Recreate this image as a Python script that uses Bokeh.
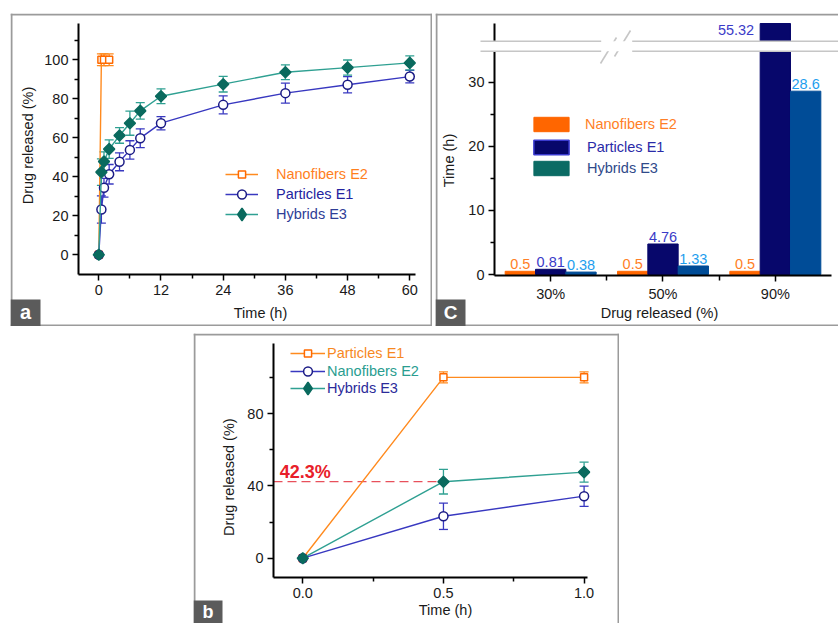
import numpy as np
from bokeh.plotting import figure
from bokeh.models import (ColumnDataSource, Whisker, TeeHead, Legend, LegendItem,
                          FixedTicker, Label, BoxAnnotation, Range1d, Spacer,
                          PrintfTickFormatter)
from bokeh.layouts import row, column
from bokeh.embed import file_html
from bokeh.resources import INLINE
from bokeh.core.properties import value

FONT = "Liberation Sans"
FS = "14.5px"
AXIS_TXT = "#1a1a1a"
BORDER_C = "#9b9b9b"

# ---------------- data: panel a ----------------
a_time_nano = [0, 0.5, 1, 2]
a_rel_nano = [0, 100, 100, 100]
a_err_nano = [0, 3, 3, 3]
a_time = [0, 0.5, 1, 2, 4, 6, 8, 12, 24, 36, 48, 60]
a_rel_part = [0, 23.2, 34.4, 41.3, 47.7, 53.8, 59.8, 67.5, 76.9, 82.9, 87.2, 91.4]
a_err_part = [0, 7.0, 4.8, 5.0, 4.6, 4.7, 4.8, 3.4, 4.6, 5.1, 4.2, 3.2]
a_rel_hyb = [0, 42.4, 47.8, 54.2, 61.2, 67.5, 73.8, 81.3, 87.5, 93.6, 96.0, 98.4]
a_err_hyb = [0, 6.8, 5.0, 4.7, 4.0, 6.2, 4.2, 3.8, 4.0, 3.8, 3.9, 3.6]
a_xticks = [0, 12, 24, 36, 48, 60]
a_xminor = [6, 18, 30, 42, 54]
a_yticks = [0, 20, 40, 60, 80, 100]
a_yminor = [10, 30, 50, 70, 90, 110]

# ---------------- data: panel c ----------------
c_categories = ["30%", "50%", "90%"]
c_nano = [0.5, 0.5, 0.5]
c_part = [0.81, 4.76, 55.32]
c_hyb = [0.38, 1.33, 28.6]
c_yticks = [0, 10, 20, 30]
c_yminor = [5, 15, 25]

# ---------------- data: panel b ----------------
b_time = [0.0, 0.5, 1.0]
b_rel_sq = [0, 100, 100]      # orange squares, legend "Particles E1"
b_err_sq = [0, 3, 3]
b_rel_ci = [0, 23.2, 34.3]    # navy circles, legend "Nanofibers E2"
b_err_ci = [0, 7.3, 5.6]
b_rel_di = [0, 42.3, 47.6]    # teal diamonds, legend "Hybrids E3"
b_err_di = [0, 6.8, 5.5]
b_xticks = [0.0, 0.5, 1.0]
b_xminor = [0.25, 0.75]
b_yticks = [0, 40, 80]
b_yminor = [20, 60, 100]

# colours
OR_LINE, OR_MARK = "#FF8A1E", "#FF6A00"
NV_LINE, NV_MARK = "#3838C0", "#1B1B85"
TL_LINE, TL_MARK = "#2FA092", "#0A6A5E"


def make_panel(canvas, xref, yref):
    """canvas = page box (left, top, right, bottom); xref/yref = (pixel of 0, pixels per unit)."""
    L, T, R, B = canvas
    x0, xs = xref
    y0, ys = yref
    fx = lambda px: (px - x0) / xs
    fy = lambda py: (y0 - py) / ys
    p = figure(width=R - L, height=B - T,
               x_range=Range1d(fx(L), fx(R)), y_range=Range1d(fy(B), fy(T)),
               output_backend="svg", toolbar_location=None,
               min_border_left=0, min_border_right=0, min_border_top=0, min_border_bottom=0,
               background_fill_color="white", border_fill_color="white",
               outline_line_color=None)
    p.xgrid.visible = False
    p.ygrid.visible = False
    for ax in (p.xaxis[0], p.yaxis[0]):
        ax.axis_line_width = 2
        ax.axis_line_color = "black"
        ax.major_tick_line_width = 1.5
        ax.minor_tick_line_width = 1.5
        ax.major_tick_out = 6
        ax.major_tick_in = 0
        ax.minor_tick_out = 4
        ax.minor_tick_in = 0
        ax.major_label_text_font = FONT
        ax.major_label_text_font_size = FS
        ax.major_label_text_color = AXIS_TXT
        ax.major_label_standoff = 4
    return p, fx, fy


def place_axes(p, fx, fy, ax_left, ax_bottom, ax_top, ax_right):
    p.yaxis.fixed_location = fx(ax_left)
    p.yaxis.bounds = (fy(ax_bottom), fy(ax_top))
    p.xaxis.fixed_location = fy(ax_bottom)
    p.xaxis.bounds = (fx(ax_left), fx(ax_right))


def draw_border(p, fx, fy, canvas, sides):
    L, T, R, B = canvas
    segs = {"left": (L + 1, T, L + 1, B), "top": (L, T + 1, R, T + 1),
            "right": (R - 1, T, R - 1, B), "bottom": (L, B - 1, R, B - 1)}
    x0, y0, x1, y1 = [], [], [], []
    for s in sides:
        a, b, c, d = segs[s]
        x0.append(fx(a)); y0.append(fy(b)); x1.append(fx(c)); y1.append(fy(d))
    p.segment(x0=x0, y0=y0, x1=x1, y1=y1, line_color=BORDER_C, line_width=2)


def add_series(p, x, y, err, lcolor, mcolor, marker, size, fill, angle=0.0, legend_marker=None):
    src = ColumnDataSource(dict(x=x, y=y))
    ln = p.line("x", "y", source=src, line_color=lcolor, line_width=1.4)
    ex = [xi for xi, e in zip(x, err) if e > 0]
    lo = [yi - e for yi, e in zip(y, err) if e > 0]
    hi = [yi + e for yi, e in zip(y, err) if e > 0]
    esrc = ColumnDataSource(dict(x=ex, lower=lo, upper=hi))
    wh = Whisker(source=esrc, base="x", lower="lower", upper="upper", dimension="height",
                 line_color=lcolor, line_width=1.3,
                 upper_head=TeeHead(size=9, line_color=lcolor, line_width=1.3),
                 lower_head=TeeHead(size=9, line_color=lcolor, line_width=1.3))
    p.add_layout(wh)
    sc = p.scatter("x", "y", source=src, marker=marker, size=size, line_color=mcolor,
                   fill_color=fill, line_width=1.5, angle=angle)
    if legend_marker is not None:
        # hidden twin used only for the legend symbol (legend ignores marker angle)
        lm = p.scatter("x", "y", source=src, marker=legend_marker, size=size, line_color=mcolor,
                       fill_color=fill, line_width=1.5, visible=False)
        return [ln, lm]
    return [ln, sc]


def add_legend(p, label, renderers, color, loc, gw, gh, standoff):
    lg = Legend(items=[LegendItem(label=label, renderers=renderers)], location=loc,
                padding=0, margin=0, spacing=0, border_line_color=None,
                background_fill_alpha=0, glyph_width=gw, glyph_height=gh,
                label_standoff=standoff, label_height=gh,
                label_text_font=FONT, label_text_font_size=FS, label_text_color=color)
    p.add_layout(lg)


def title_label(p, x, y, text, angle=0.0):
    p.add_layout(Label(x=x, y=y, text=text, angle=angle, text_font=FONT,
                       text_font_size=FS, text_color=AXIS_TXT,
                       text_align="center", text_baseline="middle"))


def panel_letter(p, fx, fy, box, text, cy, size="20px"):
    L, T, R, B = box
    p.add_layout(BoxAnnotation(left=fx(L), right=fx(R), bottom=fy(B), top=fy(T),
                               fill_color="#5b5b5b", fill_alpha=1, line_color=None))
    p.add_layout(Label(x=fx((L + R) / 2), y=fy(cy), text=text, text_font=FONT,
                       text_font_size=size, text_font_style="bold", text_color="white",
                       text_align="center", text_baseline="middle"))


# ======================= panel a =======================
a_canvas = (10, 13, 432, 326)
pa, fxa, fya = make_panel(a_canvas, (98.3, 5.183), (254.3, 1.95))
place_axes(pa, fxa, fya, 78, 274, 23, 415)
pa.xaxis.ticker = FixedTicker(ticks=a_xticks, minor_ticks=a_xminor)
pa.yaxis.ticker = FixedTicker(ticks=a_yticks, minor_ticks=a_yminor)
draw_border(pa, fxa, fya, a_canvas, ["left", "top", "right", "bottom"])

ra_nano = add_series(pa, a_time_nano, a_rel_nano, a_err_nano, OR_LINE, OR_MARK, "square", 7, "white")
ra_part = add_series(pa, a_time, a_rel_part, a_err_part, NV_LINE, NV_MARK, "circle", 9, "white")
ra_hyb = add_series(pa, a_time, a_rel_hyb, a_err_hyb, TL_LINE, TL_MARK, "square", 7.8, TL_MARK,
                    np.pi / 4, legend_marker="diamond")

add_legend(pa, "Nanofibers E2", ra_nano, "#FF7F1E", (215, 143), 33, 18, 18)
add_legend(pa, "Particles E1", ra_part, "#2323A0", (215, 121), 33, 22, 18)
add_legend(pa, "Hybrids E3", ra_hyb, "#2E3D96", (215, 96), 33, 32, 18)

title_label(pa, fxa(260), fya(312), "Time (h)")
title_label(pa, fxa(27), fya(145), "Drug released (%)", np.pi / 2)
panel_letter(pa, fxa, fya, (10, 299, 40, 326), "a", 311)

# ======================= panel c =======================
c_canvas = (435, 13, 838, 326)
pc, fxc, fyc = make_panel(c_canvas, (494, 112.33), (274, 6.41))
place_axes(pc, fxc, fyc, 494, 275, 23, 831)
c_centers = [i + 0.5 for i in range(len(c_categories))]
pc.xaxis.ticker = FixedTicker(ticks=c_centers, minor_ticks=[1, 2])
pc.xaxis.major_label_overrides = {c: lab for c, lab in zip(c_centers, c_categories)}
pc.xaxis.minor_tick_out = 5
pc.yaxis.ticker = FixedTicker(ticks=c_yticks, minor_ticks=c_yminor)
draw_border(pc, fxc, fyc, c_canvas, ["left", "top", "bottom"])

C_BAR = ["#FF6600", "#07076B", "#004C97"]
C_LBL = ["#FF7F27", "#3B3BC8", "#1E9EEE"]
c_off = [-0.27, 0.0, 0.27]
bw = 0.27
c_top_visible = fyc(23)          # top of the broken axis
break_lo = fyc(50.7)
break_hi = fyc(40.7)
norm = dict(x=[], y=[], t=[], c=[])
high = dict(x=[], y=[], t=[], c=[])
bar_series = []
for s, vals in enumerate([c_nano, c_part, c_hyb]):
    xs = [c + c_off[s] for c in c_centers]
    shown = [min(v, c_top_visible) for v in vals]
    pc.vbar(x=xs, top=shown, bottom=0, width=bw, fill_color=C_BAR[s], line_color=C_BAR[s])
    bar_series.append((xs, shown))
    for xc, v in zip(xs, vals):
        if v < break_lo:
            norm["x"].append(xc); norm["y"].append(v)
            norm["t"].append(f"{v:g}"); norm["c"].append(C_LBL[s])
        else:
            high["x"].append(xc - bw / 2); high["y"].append(fyc(29))
            high["t"].append(f"{v:g}"); high["c"].append(C_LBL[s])

pc.text(x="x", y="y", text="t", text_color="c", source=ColumnDataSource(norm),
        text_align="center", text_baseline="bottom", y_offset=-2,
        text_font=value(FONT), text_font_size=value(FS))
pc.text(x="x", y="y", text="t", text_color="c", source=ColumnDataSource(high),
        text_align="right", text_baseline="middle", x_offset=-6,
        text_font=value(FONT), text_font_size=value(FS))

# axis break
pc.add_layout(BoxAnnotation(left=fxc(482), right=fxc(840), bottom=break_lo, top=break_hi,
                            fill_color="white", fill_alpha=1, line_color=None, level="overlay"))
lt = 1.6 / 6.41
for (xa, xb) in [(480, 600.7), (631.7, 845)]:
    for yy in (break_lo, break_hi):
        pc.add_layout(BoxAnnotation(left=fxc(xa), right=fxc(xb), bottom=yy - lt / 2, top=yy + lt / 2,
                                    fill_color="#c6c6c6", fill_alpha=1, line_color=None,
                                    level="overlay"))
sl = pc.segment(x0=[fxc(600), fxc(614)], y0=[fyc(63), fyc(56)],
                x1=[fxc(616), fxc(630)], y1=[fyc(37), fyc(30)],
                line_color="#c6c6c6", line_width=1.6)
sl.level = "overlay"

# legend swatches (hidden renderers carrying the bar data)
sw_style = [dict(fill_color="#FF6600", line_color="#FF6600"),
            dict(fill_color="#07076B", line_color="#3A3ACF", line_width=1.5),
            dict(fill_color="#0B6B64", line_color="#0B6B64")]
sw = []
for (xs, shown), st in zip(bar_series, sw_style):
    r = pc.vbar(x=xs, top=shown, bottom=0, width=bw, visible=False, **st)
    sw.append(r)
add_legend(pc, "Nanofibers E2", [sw[0]], "#FF7F27", (94, 193), 44, 18, 12)
add_legend(pc, "Particles E1", [sw[1]], "#2A2AA8", (94, 170), 44, 18, 14)
add_legend(pc, "Hybrids E3", [sw[2]], "#2F4A8A", (94, 149), 44, 18, 14)

title_label(pc, fxc(659), fyc(312.3), "Drug released (%)")
title_label(pc, fxc(448), fyc(160), "Time (h)", np.pi / 2)
panel_letter(pc, fxc, fyc, (435, 299, 465, 326), "C", 312, "19px")

# ======================= panel b =======================
b_canvas = (193, 333, 619, 623)
pb, fxb, fyb = make_panel(b_canvas, (302.3, 281.3), (557.7, 1.8083))
place_axes(pb, fxb, fyb, 273, 577, 343, 587)
pb.xaxis.ticker = FixedTicker(ticks=b_xticks, minor_ticks=b_xminor)
pb.xaxis.formatter = PrintfTickFormatter(format="%.1f")
pb.yaxis.ticker = FixedTicker(ticks=b_yticks, minor_ticks=b_yminor)
draw_border(pb, fxb, fyb, b_canvas, ["left", "top", "right"])

pb.segment(x0=[fxb(273)], y0=[b_rel_di[1]], x1=[b_time[1]], y1=[b_rel_di[1]],
           line_color="#E8505B", line_width=1.2, line_dash="9 5")

rb_sq = add_series(pb, b_time, b_rel_sq, b_err_sq, OR_LINE, OR_MARK, "square", 7, "white")
rb_ci = add_series(pb, b_time, b_rel_ci, b_err_ci, NV_LINE, NV_MARK, "circle", 9, "white")
rb_di = add_series(pb, b_time, b_rel_di, b_err_di, TL_LINE, TL_MARK, "square", 7.8, TL_MARK,
                   np.pi / 4, legend_marker="diamond")

add_legend(pb, "Particles E1", rb_sq, "#F7891F", (97, 261), 35, 18, 2)
add_legend(pb, "Nanofibers E2", rb_ci, "#2A9D90", (97, 241), 35, 22, 2)
add_legend(pb, "Hybrids E3", rb_di, "#2B2B9A", (97, 219), 35, 32, 2)

pb.add_layout(Label(x=fxb(279.3), y=fyb(471.7), text=f"{b_rel_di[1]:g}%",
                    text_font=FONT, text_font_size="18px", text_font_style="bold",
                    text_color="#E8202A", text_align="left", text_baseline="alphabetic"))

title_label(pb, fxb(445), fyb(609), "Time (h)")
title_label(pb, fxb(228), fyb(476.7), "Drug released (%)", np.pi / 2)
panel_letter(pb, fxb, fyb, (193, 600, 222, 623), "b", 611.5, "18px")

layout = column(
    Spacer(width=10, height=13),
    row(Spacer(width=10, height=10), pa, Spacer(width=3, height=10), pc),
    Spacer(width=10, height=7),
    row(Spacer(width=193, height=10), pb),
)

open("out.html", "w").write(file_html(layout, INLINE))
